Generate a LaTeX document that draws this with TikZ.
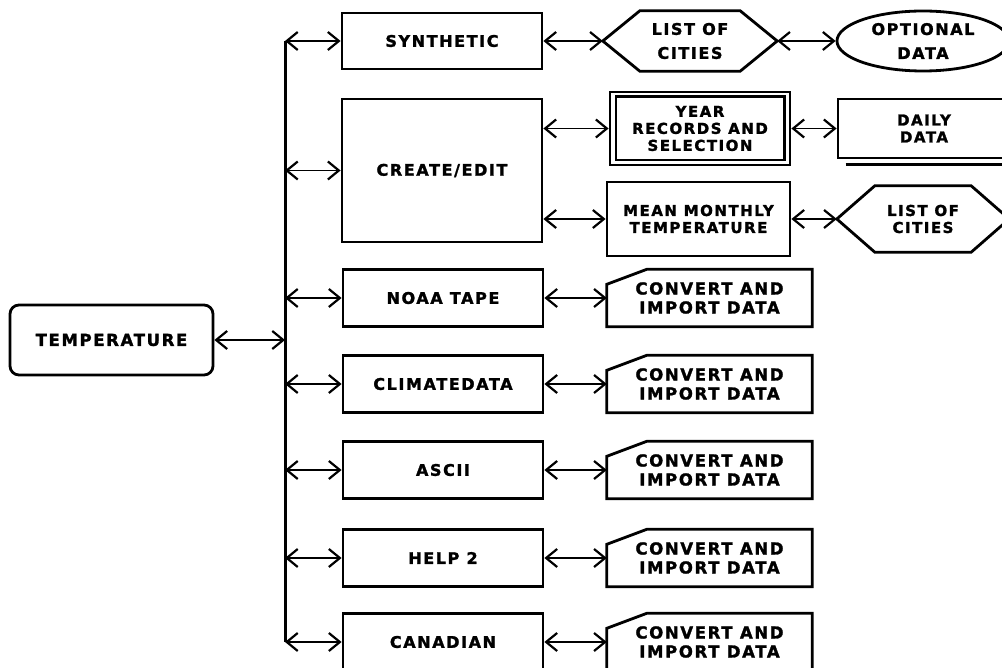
\documentclass[tikz,border=0pt]{standalone}
\usepackage{fontspec}
\newfontfamily\lblfont{DejaVu Sans}[LetterSpace=10,BoldFeatures={FakeBold=1.6}]
\usetikzlibrary{arrows.meta,shapes.geometric}
\newcommand{\biglbl}{\lblfont\bfseries\fontsize{16}{19}\selectfont}
\newcommand{\cardlbl}{\lblfont\bfseries\fontsize{16.5}{19}\selectfont}
\newcommand{\tallbl}{\lblfont\bfseries\fontsize{16}{24}\selectfont}
\newcommand{\smllbl}{\lblfont\bfseries\fontsize{15}{17}\selectfont}
\begin{document}
\begin{tikzpicture}[x=1pt,y=-1pt,
  every node/.style={align=center,font=\biglbl,inner sep=0pt},
  box/.style={draw,line width=2.8pt,minimum width=200pt,minimum height=57pt},
  ghost/.style={minimum width=205pt,minimum height=57pt,font=\cardlbl},
  outl/.style={line width=2.8pt,line join=miter},
  conn/.style={line width=1.8pt,
    {Straight Barb[length=11pt,width=18pt,line width=2.2pt]}-{Straight Barb[length=11pt,width=18pt,line width=2.2pt]}},
  bus/.style={line width=3pt}
]
\useasboundingbox (0,0) rectangle (1002,668);
\clip (0,0) rectangle (1002,668);

% root
\node[box,rounded corners=9pt,minimum width=203pt,minimum height=70pt,font=\lblfont\bfseries\fontsize{16.5}{20}\selectfont] (temp) at (111.5,340) {TEMPERATURE};

% bus
\coordinate (bustop) at (285,41);
\coordinate (busbot) at (285,642);
\coordinate (busmid) at (285,340);
\draw[bus] (bustop) -- (busbot);

% left column
\node[box,minimum height=56pt] (syn) at (442,41) {SYNTHETIC};
\node[box,minimum height=143pt] (cre) at (442,170.5) {CREATE/EDIT};
\node[box] (noaa) at (443,298) {NOAA TAPE};
\node[box] (clim) at (443,384) {CLIMATEDATA};
\node[box] (asc)  at (443,470) {ASCII};
\node[box] (hlp)  at (443,558) {HELP 2};
\node[box] (can)  at (443,642) {CANADIAN};

% top row
\node[minimum width=174pt,minimum height=60pt,font=\tallbl] (loc1) at (690,41) {LIST OF\\CITIES};
\draw[outl] (loc1.west) -- ([xshift=37pt]loc1.north west) -- ([xshift=-37pt]loc1.north east) -- (loc1.east)
  -- ([xshift=-37pt]loc1.south east) -- ([xshift=37pt]loc1.south west) -- cycle;
\node[ellipse,draw,line width=2.8pt,minimum width=172pt,minimum height=60pt,font=\tallbl] (opt) at (923,41) {OPTIONAL\\DATA};

% create/edit branch
\node[box,minimum width=180pt,minimum height=73pt,font=\smllbl] (year) at (700,128.5) {YEAR\\RECORDS AND\\SELECTION};
\draw[line width=2.2pt] ([xshift=7pt,yshift=-6pt]year.north west) rectangle ([xshift=-7pt,yshift=6pt]year.south east);
\node[box,minimum width=172pt,minimum height=59pt,font=\smllbl] (daily) at (924,128.5) {DAILY\\DATA};
\draw[line width=2.4pt] ([xshift=9pt,yshift=-5pt]daily.south west) -- ([yshift=-5pt]daily.south east);
\node[box,minimum width=183pt,minimum height=74pt,font=\smllbl] (mean) at (698.5,219) {MEAN MONTHLY\\TEMPERATURE};
\node[minimum width=172pt,minimum height=66pt,font=\smllbl] (loc2) at (923,219) {LIST OF\\CITIES};
\draw[outl] (loc2.west) -- ([xshift=38pt]loc2.north west) -- ([xshift=-38pt]loc2.north east) -- (loc2.east)
  -- ([xshift=-38pt]loc2.south east) -- ([xshift=38pt]loc2.south west) -- cycle;

% convert cards
\node[ghost] (c1) at (709.5,298) {CONVERT AND\\IMPORT DATA};
\node[ghost] (c2) at (709.5,384) {CONVERT AND\\IMPORT DATA};
\node[ghost] (c3) at (709.5,470) {CONVERT AND\\IMPORT DATA};
\node[ghost] (c4) at (709.5,558) {CONVERT AND\\IMPORT DATA};
\node[ghost] (c5) at (709.5,642) {CONVERT AND\\IMPORT DATA};
\foreach \n in {c1,c2,c3,c4,c5}{
  \draw[outl] (\n.south west) -- ([yshift=-15pt]\n.north west) -- ([xshift=40pt]\n.north west)
    -- (\n.north east) -- (\n.south east) -- cycle;
}

% connectors
\draw[conn] (temp.east) -- (busmid);
\foreach \n in {syn,cre,noaa,clim,asc,hlp,can}{
  \draw[conn] (bustop |- \n.west) -- (\n.west);
}
\draw[conn] (syn.east) -- (loc1.west);
\draw[conn] (loc1.east) -- (opt.west);
\draw[conn] (cre.east |- year.west) -- (year.west);
\draw[conn] (year.east) -- (daily.west);
\draw[conn] (cre.east |- mean.west) -- (mean.west);
\draw[conn] (mean.east) -- (loc2.west);
\draw[conn] (noaa.east) -- (c1.west);
\draw[conn] (clim.east) -- (c2.west);
\draw[conn] (asc.east) -- (c3.west);
\draw[conn] (hlp.east) -- (c4.west);
\draw[conn] (can.east) -- (c5.west);
\end{tikzpicture}
\end{document}
